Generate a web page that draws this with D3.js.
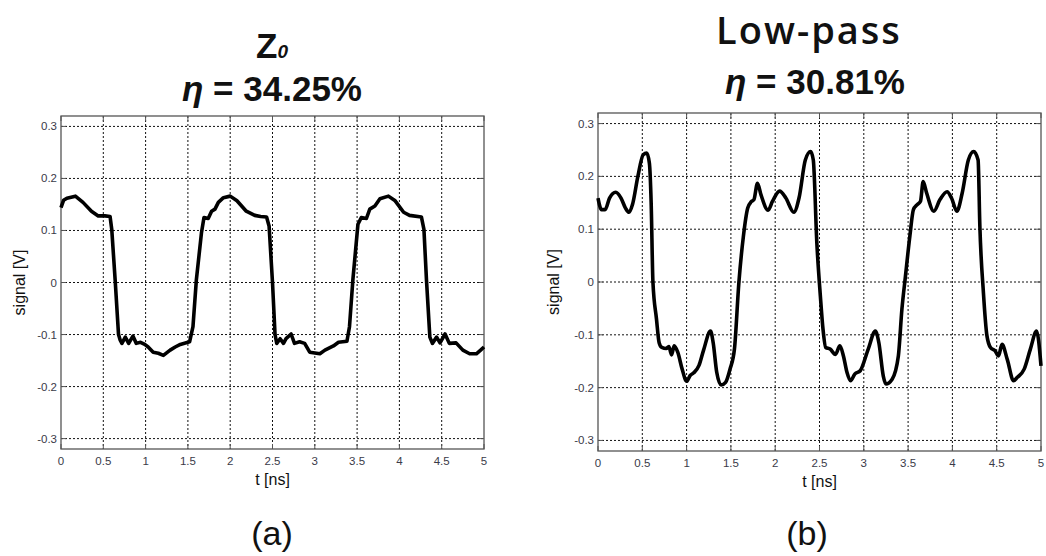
<!DOCTYPE html>
<meta charset="utf-8">
<style>
body { margin: 0; background: #fff; }
.tick-label { font-family: "Liberation Sans", Arial, sans-serif; font-size: 11.5px; fill: #3a3a48; }
.axis-label { font-family: "Liberation Sans", Arial, sans-serif; font-size: 16px; fill: #111; }
.grid { stroke: #111; stroke-width: 1; stroke-dasharray: 2,2; }
.frame { fill: none; stroke: #555; stroke-width: 1.3; }
.tickmark { stroke: #555; stroke-width: 1; }
.sig { fill: none; stroke: #000; stroke-width: 3.6; stroke-linejoin: round; }
.title-b { font-family: "Liberation Sans", Arial, sans-serif; font-weight: bold; fill: #111; }
.caption { font-family: "Liberation Sans", Arial, sans-serif; font-size: 34px; fill: #111; }
</style>
<body>
<script src="https://d3js.org/d3.v7.min.js"></script>
<script>
// axis ticks, shared by both panels
const xTicks = [0, 0.5, 1, 1.5, 2, 2.5, 3, 3.5, 4, 4.5, 5];
const xTickLabels = ["0", "0.5", "1", "1.5", "2", "2.5", "3", "3.5", "4", "4.5", "5"];
const yTicks = [-0.3, -0.2, -0.1, 0, 0.1, 0.2, 0.3];
const yTickLabels = ["-0.3", "-0.2", "-0.1", "0", "0.1", "0.2", "0.3"];

// (a) Z0 line
const tA = [0, 0.03, 0.07, 0.17, 0.26, 0.36, 0.44, 0.52, 0.58, 0.60, 0.64, 0.68, 0.70, 0.72, 0.76, 0.80, 0.85, 0.89, 0.94, 0.99,
  1.03, 1.09, 1.15, 1.21, 1.29, 1.35, 1.41, 1.52, 1.56, 1.60, 1.66, 1.69, 1.74, 1.78, 1.82, 1.86, 1.92, 2.00, 2.08, 2.19,
  2.29, 2.36, 2.43, 2.46, 2.50, 2.53, 2.55, 2.59, 2.63, 2.66, 2.72, 2.76, 2.82, 2.88, 2.94, 3.06, 3.12, 3.22, 3.28, 3.38,
  3.41, 3.45, 3.51, 3.55, 3.61, 3.65, 3.71, 3.77, 3.87, 3.95, 4.05, 4.12, 4.26, 4.29, 4.32, 4.36, 4.39, 4.44, 4.48, 4.54,
  4.59, 4.67, 4.75, 4.83, 4.91, 4.96, 5.0];
const vA = [0.144, 0.158, 0.162, 0.166, 0.154, 0.137, 0.128, 0.128, 0.127, 0.102, 0.005, -0.100, -0.111, -0.117, -0.105, -0.117, -0.103, -0.117, -0.115, -0.119,
  -0.124, -0.134, -0.136, -0.140, -0.130, -0.124, -0.119, -0.114, -0.085, 0.005, 0.095, 0.125, 0.123, 0.137, 0.141, 0.154, 0.163, 0.166, 0.157, 0.137,
  0.129, 0.127, 0.126, 0.108, 0.0, -0.100, -0.117, -0.108, -0.117, -0.108, -0.099, -0.117, -0.114, -0.117, -0.134, -0.137, -0.130, -0.122, -0.115, -0.113,
  -0.085, 0.005, 0.112, 0.125, 0.123, 0.141, 0.147, 0.161, 0.166, 0.157, 0.135, 0.129, 0.126, 0.102, 0.005, -0.105, -0.117, -0.105, -0.116, -0.099,
  -0.117, -0.116, -0.130, -0.137, -0.137, -0.130, -0.124];

// (b) Low-pass line
const tB = [0, 0.04, 0.08, 0.13, 0.20, 0.26, 0.31, 0.35, 0.39, 0.45, 0.51, 0.55, 0.58, 0.60, 0.62, 0.66, 0.69, 0.72, 0.77, 0.80,
  0.83, 0.86, 0.90, 0.95, 1.00, 1.04, 1.08, 1.14, 1.19, 1.27, 1.30, 1.34, 1.39, 1.44, 1.49, 1.54, 1.59, 1.64, 1.69, 1.73,
  1.76, 1.80, 1.84, 1.92, 1.97, 2.05, 2.12, 2.21, 2.27, 2.34, 2.40, 2.43, 2.47, 2.51, 2.54, 2.57, 2.62, 2.68, 2.73, 2.77,
  2.81, 2.85, 2.90, 2.96, 3.05, 3.13, 3.17, 3.22, 3.25, 3.32, 3.39, 3.43, 3.47, 3.52, 3.56, 3.60, 3.64, 3.67, 3.71, 3.79,
  3.86, 3.94, 3.99, 4.05, 4.11, 4.18, 4.24, 4.29, 4.31, 4.35, 4.39, 4.43, 4.48, 4.52, 4.56, 4.62, 4.69, 4.73, 4.81, 4.88,
  4.95, 5.0];
const vB = [0.159, 0.137, 0.137, 0.159, 0.170, 0.159, 0.140, 0.132, 0.147, 0.200, 0.241, 0.244, 0.225, 0.150, 0.0, -0.070, -0.115, -0.124, -0.126, -0.122,
  -0.138, -0.121, -0.133, -0.165, -0.188, -0.177, -0.172, -0.158, -0.130, -0.093, -0.115, -0.171, -0.195, -0.190, -0.165, -0.127, -0.001, 0.085, 0.140, 0.152,
  0.156, 0.187, 0.165, 0.136, 0.153, 0.172, 0.159, 0.132, 0.160, 0.231, 0.247, 0.231, 0.074, -0.027, -0.090, -0.124, -0.127, -0.137, -0.121, -0.140,
  -0.171, -0.187, -0.174, -0.168, -0.127, -0.093, -0.115, -0.178, -0.193, -0.184, -0.140, -0.052, 0.011, 0.087, 0.137, 0.146, 0.153, 0.190, 0.168, 0.134,
  0.156, 0.171, 0.159, 0.134, 0.168, 0.231, 0.247, 0.231, 0.105, -0.020, -0.102, -0.124, -0.130, -0.140, -0.118, -0.147, -0.187, -0.181, -0.165, -0.127,
  -0.093, -0.159];

const svg = d3.select("body").append("svg")
    .attr("width", 1046)
    .attr("height", 556);

function panel(o) {
  const x = d3.scaleLinear().domain([0, 5]).range([o.left, o.right]);
  const y = d3.scaleLinear().domain([-0.32, 0.32]).range([o.bottom, o.top]);
  const g = svg.append("g");

  // dotted grid
  g.selectAll(".gx").data(xTicks.slice(1, -1)).enter().append("line")
      .attr("class", "grid")
      .attr("x1", d => x(d)).attr("x2", d => x(d))
      .attr("y1", o.top).attr("y2", o.bottom);
  g.selectAll(".gy").data(yTicks).enter().append("line")
      .attr("class", "grid")
      .attr("x1", o.left).attr("x2", o.right)
      .attr("y1", d => y(d)).attr("y2", d => y(d));

  // inward ticks on all four sides (matlab style)
  const tl = 5;
  xTicks.forEach(d => {
    g.append("line").attr("class", "tickmark").attr("x1", x(d)).attr("x2", x(d)).attr("y1", o.bottom).attr("y2", o.bottom - tl);
    g.append("line").attr("class", "tickmark").attr("x1", x(d)).attr("x2", x(d)).attr("y1", o.top).attr("y2", o.top + tl);
  });
  yTicks.forEach(d => {
    g.append("line").attr("class", "tickmark").attr("x1", o.left).attr("x2", o.left + tl).attr("y1", y(d)).attr("y2", y(d));
    g.append("line").attr("class", "tickmark").attr("x1", o.right).attr("x2", o.right - tl).attr("y1", y(d)).attr("y2", y(d));
  });

  g.append("rect").attr("class", "frame")
      .attr("x", o.left).attr("y", o.top)
      .attr("width", o.right - o.left).attr("height", o.bottom - o.top);

  // tick labels
  g.selectAll(".xl").data(xTicks).enter().append("text")
      .attr("class", "tick-label")
      .attr("x", d => x(d)).attr("y", o.bottom + 16)
      .attr("text-anchor", "middle")
      .text((d, i) => xTickLabels[i]);
  g.selectAll(".yl").data(yTicks).enter().append("text")
      .attr("class", "tick-label")
      .attr("x", o.left - 4).attr("y", d => y(d) + 4)
      .attr("text-anchor", "end")
      .text((d, i) => yTickLabels[i]);

  g.append("text").attr("class", "axis-label")
      .attr("x", (o.left + o.right) / 2).attr("y", o.bottom + 36)
      .attr("text-anchor", "middle")
      .text("t [ns]");
  g.append("text").attr("class", "axis-label")
      .attr("transform", "translate(" + o.ylabX + "," + ((o.top + o.bottom) / 2) + ") rotate(-90)")
      .attr("text-anchor", "middle")
      .text("signal [V]");

  const line = d3.line()
      .x(d => x(d[0]))
      .y(d => y(d[1]))
      .curve(o.curve);
  g.append("path").attr("class", "sig")
      .datum(o.t.map((t, i) => [t, o.v[i]]))
      .attr("d", line);
}

panel({left: 61, right: 484, top: 116, bottom: 449, ylabX: 25, t: tA, v: vA, curve: d3.curveLinear});
panel({left: 598, right: 1041, top: 113, bottom: 451, ylabX: 559, t: tB, v: vB, curve: d3.curveMonotoneX});

// titles
const tz = svg.append("text").attr("class", "title-b")
    .attr("x", 272).attr("y", 58).attr("text-anchor", "middle")
    .style("font-size", "35px");
tz.append("tspan").text("Z");
tz.append("tspan").style("font-size", "19px").style("font-style", "italic").text("0");

svg.append("text").attr("class", "title-b")
    .attr("x", 272).attr("y", 101).attr("text-anchor", "middle")
    .style("font-size", "35px")
    .html('<tspan font-style="italic">η</tspan> = 34.25%');

svg.append("text")
    .attr("x", 809).attr("y", 44).attr("text-anchor", "middle")
    .style("font-family", "'Open Sans', 'DejaVu Sans', sans-serif")
    .style("font-weight", "600")
    .style("font-size", "38px")
    .style("letter-spacing", "2px")
    .style("fill", "#111")
    .text("Low-pass");

svg.append("text").attr("class", "title-b")
    .attr("x", 815).attr("y", 94).attr("text-anchor", "middle")
    .style("font-size", "35px")
    .html('<tspan font-style="italic">η</tspan> = 30.81%');

svg.append("text").attr("class", "caption")
    .attr("x", 272).attr("y", 545).attr("text-anchor", "middle").text("(a)");
svg.append("text").attr("class", "caption")
    .attr("x", 807).attr("y", 545).attr("text-anchor", "middle").text("(b)");
</script>
</body>
